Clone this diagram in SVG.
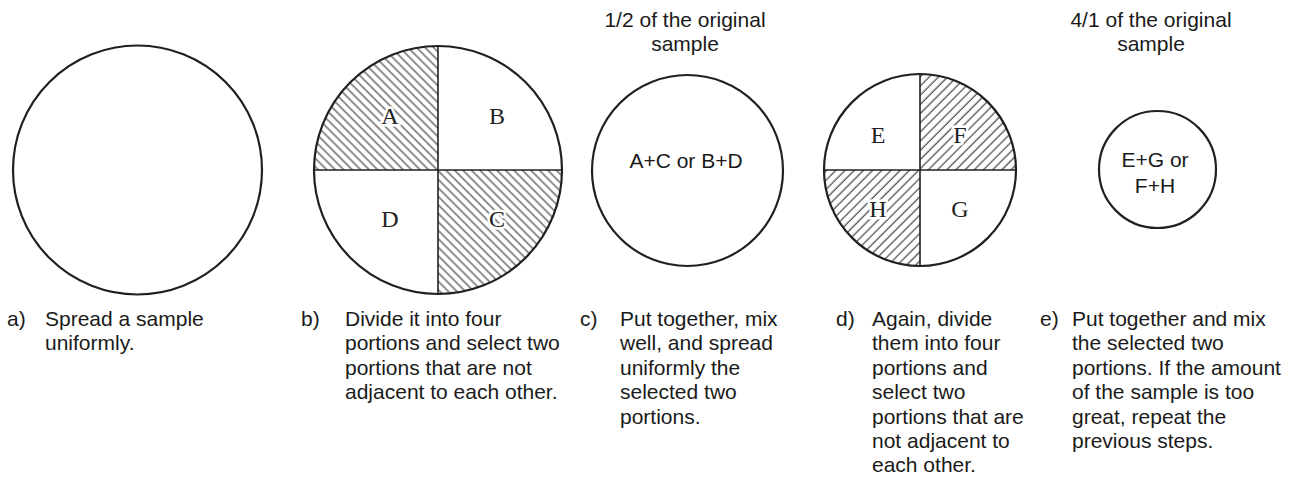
<svg xmlns="http://www.w3.org/2000/svg" width="1298" height="483" viewBox="0 0 1298 483">
<style>
.ring{fill:none;stroke:#231f20;stroke-width:2.2}
.div{stroke:#231f20;stroke-width:1.6;fill:none}
.lt{font-family:"Liberation Serif","DejaVu Serif",serif;font-size:24px;fill:#222;text-anchor:middle;stroke:#fff;stroke-width:5;paint-order:stroke;stroke-linejoin:round}
.tx{font-family:"Liberation Sans",Arial,sans-serif;font-size:21px;fill:#1a1a1a}
.mid{text-anchor:middle}
</style>
<defs>
<pattern id="hb" patternUnits="userSpaceOnUse" width="6" height="6" patternTransform="rotate(-45)">
<line x1="3" y1="0" x2="3" y2="6" stroke="#333" stroke-width="1.1"/>
</pattern>
<pattern id="hd" patternUnits="userSpaceOnUse" width="6.5" height="6.5" patternTransform="rotate(45)">
<line x1="3" y1="0" x2="3" y2="6.5" stroke="#333" stroke-width="1.1"/>
</pattern>
</defs>
<rect width="1298" height="483" fill="#fff"/>

<g id="node-a">
<circle class="ring" cx="137.5" cy="170" r="124.5"/>
<text class="tx" x="7" y="326">a)</text>
<text class="tx"><tspan x="45" y="326">Spread a sample</tspan><tspan x="45" y="350.4">uniformly.</tspan></text>
</g>

<g id="node-b">
<path d="M438,170 L314,170 A124,124 0 0 1 438,46 Z" fill="url(#hb)"/>
<path d="M438,170 L562,170 A124,124 0 0 1 438,294 Z" fill="url(#hb)"/>
<circle class="ring" cx="438" cy="170" r="124"/>
<line class="div" x1="314" y1="170" x2="562" y2="170"/>
<line class="div" x1="438" y1="46" x2="438" y2="294"/>
<text class="lt" x="390" y="124">A</text>
<text class="lt" x="497" y="124">B</text>
<text class="lt" x="390" y="227">D</text>
<text class="lt" x="497" y="227">C</text>
<text class="tx" x="301" y="326">b)</text>
<text class="tx"><tspan x="345" y="326">Divide it into four</tspan><tspan x="345" y="350.4">portions and select two</tspan><tspan x="345" y="374.8">portions that are not</tspan><tspan x="345" y="399.2">adjacent to each other.</tspan></text>
</g>

<g id="node-c">
<text class="tx mid"><tspan x="685" y="27">1/2 of the original</tspan><tspan x="685" y="51.4">sample</tspan></text>
<circle class="ring" cx="687.5" cy="170.5" r="95.5"/>
<text class="tx mid" x="686" y="168">A+C or B+D</text>
<text class="tx" x="580" y="326">c)</text>
<text class="tx"><tspan x="620" y="326">Put together, mix</tspan><tspan x="620" y="350.4">well, and spread</tspan><tspan x="620" y="374.8">uniformly the</tspan><tspan x="620" y="399.2">selected two</tspan><tspan x="620" y="423.6">portions.</tspan></text>
</g>

<g id="node-d">
<path d="M920,170 L920,74 A96,96 0 0 1 1016,170 Z" fill="url(#hd)"/>
<path d="M920,170 L920,266 A96,96 0 0 1 824,170 Z" fill="url(#hd)"/>
<circle class="ring" cx="920" cy="170" r="96"/>
<line class="div" x1="824" y1="170" x2="1016" y2="170"/>
<line class="div" x1="920" y1="74" x2="920" y2="266"/>
<text class="lt" x="878" y="143">E</text>
<text class="lt" x="960" y="143">F</text>
<text class="lt" x="878" y="217">H</text>
<text class="lt" x="960" y="217">G</text>
<text class="tx" x="836" y="326">d)</text>
<text class="tx"><tspan x="872" y="326">Again, divide</tspan><tspan x="872" y="350.4">them into four</tspan><tspan x="872" y="374.8">portions and</tspan><tspan x="872" y="399.2">select two</tspan><tspan x="872" y="423.6">portions that are</tspan><tspan x="872" y="448">not adjacent to</tspan><tspan x="872" y="472.4">each other.</tspan></text>
</g>

<g id="node-e">
<text class="tx mid"><tspan x="1151" y="27">4/1 of the original</tspan><tspan x="1151" y="51.4">sample</tspan></text>
<circle class="ring" cx="1157.5" cy="169.5" r="58.5"/>
<text class="tx mid"><tspan x="1155" y="167">E+G or</tspan><tspan x="1155" y="193">F+H</tspan></text>
<text class="tx" x="1040" y="326">e)</text>
<text class="tx"><tspan x="1072" y="326">Put together and mix</tspan><tspan x="1072" y="350.4">the selected two</tspan><tspan x="1072" y="374.8">portions. If the amount</tspan><tspan x="1072" y="399.2">of the sample is too</tspan><tspan x="1072" y="423.6">great, repeat the</tspan><tspan x="1072" y="448">previous steps.</tspan></text>
</g>

<g id="connectors"></g>
</svg>
